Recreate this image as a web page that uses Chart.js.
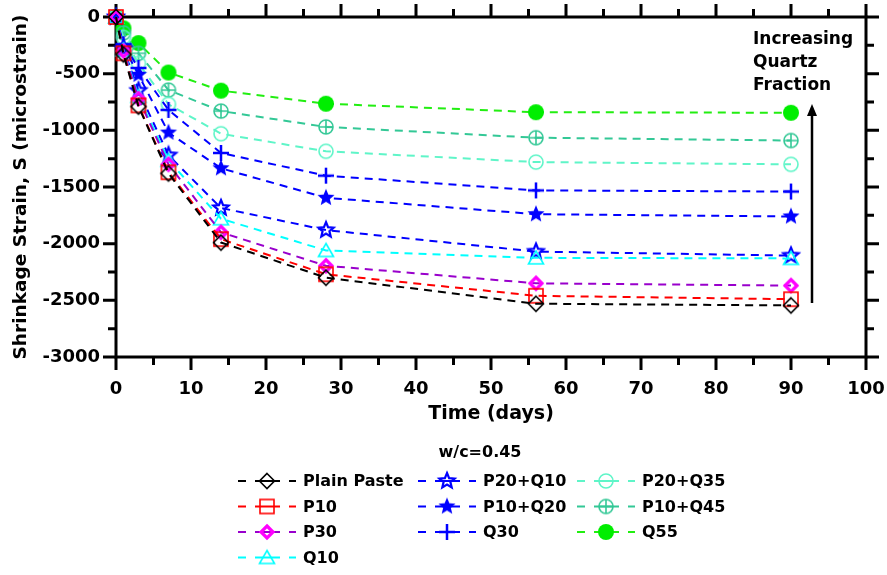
<!DOCTYPE html>
<html>
<head>
<meta charset="utf-8">
<script src="https://cdn.jsdelivr.net/npm/chart.js@4.4.1/dist/chart.umd.min.js"></script>
<style>
  html, body { margin: 0; padding: 0; background: #fff; }
</style>
</head>
<body>
<canvas id="shrinkChart" width="887" height="575"></canvas>
<script>
// data (days vs microstrain)
const days = [0, 1, 3, 7, 14, 28, 56, 90];
const plainPaste = [0, -330, -790, -1380, -1990, -2300, -2530, -2545];
const p10 = [0, -320, -780, -1370, -1960, -2270, -2460, -2490];
const p30 = [0, -300, -720, -1300, -1900, -2195, -2350, -2370];
const q10 = [0, -290, -700, -1265, -1780, -2060, -2125, -2130];
const p20q10 = [0, -280, -650, -1220, -1685, -1880, -2070, -2105];
const p10q20 = [0, -260, -510, -1020, -1335, -1595, -1740, -1760];
const q30 = [0, -240, -450, -820, -1200, -1400, -1530, -1540];
const p20q35 = [0, -180, -410, -770, -1030, -1185, -1280, -1300];
const p10q45 = [0, -140, -320, -645, -830, -970, -1065, -1090];
const q55 = [0, -100, -230, -490, -650, -765, -840, -845];

const xMajorTicks = [0, 10, 20, 30, 40, 50, 60, 70, 80, 90, 100];
const yMajorTicks = [0, -500, -1000, -1500, -2000, -2500, -3000];

const FONT = '"DejaVu Sans", Arial, sans-serif';
const HIDDEN = 'rgba(0,0,0,0)';

// marker images
function marker(draw) {
  const c = document.createElement('canvas');
  c.width = 22; c.height = 22;
  const g = c.getContext('2d');
  g.translate(11, 11);
  draw(g);
  return c;
}
function starPath(g, ro, ri) {
  g.beginPath();
  for (let i = 0; i < 10; i++) {
    const r = i % 2 ? ri : ro;
    const a = -Math.PI / 2 + i * Math.PI / 5;
    g.lineTo(r * Math.cos(a), r * Math.sin(a));
  }
  g.closePath();
}
const mk = {
  diamond: marker(g => {
    g.strokeStyle = '#000'; g.lineWidth = 1.6;
    g.beginPath(); g.moveTo(0, -7.5); g.lineTo(7.5, 0); g.lineTo(0, 7.5); g.lineTo(-7.5, 0); g.closePath(); g.stroke();
  }),
  square: marker(g => {
    g.strokeStyle = '#ff0000'; g.lineWidth = 1.6;
    g.strokeRect(-7, -7, 14, 14);
  }),
  thickDiamond: marker(g => {
    g.strokeStyle = '#ff00ff'; g.lineWidth = 3.2;
    g.beginPath(); g.moveTo(0, -6); g.lineTo(6, 0); g.lineTo(0, 6); g.lineTo(-6, 0); g.closePath(); g.stroke();
  }),
  triangle: marker(g => {
    g.strokeStyle = '#00ffff'; g.lineWidth = 1.6;
    g.beginPath(); g.moveTo(0, -7); g.lineTo(7.5, 6); g.lineTo(-7.5, 6); g.closePath(); g.stroke();
  }),
  openStar: marker(g => {
    g.strokeStyle = '#0000ff'; g.lineWidth = 2.2;
    starPath(g, 8, 3.6); g.stroke();
  }),
  fillStar: marker(g => {
    g.fillStyle = '#0000ff';
    starPath(g, 9, 4); g.fill();
  }),
  plus: marker(g => {
    g.strokeStyle = '#0000ff'; g.lineWidth = 2.5;
    g.beginPath(); g.moveTo(-8, 0); g.lineTo(8, 0); g.moveTo(0, -8); g.lineTo(0, 8); g.stroke();
  }),
  openCircle: marker(g => {
    g.strokeStyle = '#5ff5c8'; g.lineWidth = 1.6;
    g.beginPath(); g.arc(0, 0, 7, 0, Math.PI * 2); g.stroke();
  }),
  circlePlus: marker(g => {
    g.strokeStyle = '#33c896'; g.lineWidth = 1.6;
    g.beginPath(); g.arc(0, 0, 7, 0, Math.PI * 2);
    g.moveTo(-7, 0); g.lineTo(7, 0); g.moveTo(0, -7); g.lineTo(0, 7); g.stroke();
  }),
  dot: marker(g => {
    g.fillStyle = '#00ee00';
    g.beginPath(); g.arc(0, 0, 8, 0, Math.PI * 2); g.fill();
  })
};

function series(label, values, color, style) {
  return {
    label,
    data: days.map((d, i) => ({ x: d, y: values[i] })),
    borderColor: color,
    backgroundColor: color,
    borderWidth: 2,
    borderDash: [8, 6],
    pointStyle: style,
    pointRadius: 8,
    tension: 0,
    clip: false
  };
}

const datasets = [
  series('Plain Paste', plainPaste, '#000000', mk.diamond),
  series('P10', p10, '#ff0000', mk.square),
  series('P30', p30, '#9900cc', mk.thickDiamond),
  series('Q10', q10, '#00ffff', mk.triangle),
  series('P20+Q10', p20q10, '#0000ff', mk.openStar),
  series('P10+Q20', p10q20, '#0000ff', mk.fillStar),
  series('Q30', q30, '#0000ff', mk.plus),
  series('P20+Q35', p20q35, '#5ff5c8', mk.openCircle),
  series('P10+Q45', p10q45, '#33c896', mk.circlePlus),
  series('Q55', q55, '#22ee11', mk.dot)
];

// legend layout: columns of dataset indices
const legendCols = [[0, 1, 2, 3], [4, 5, 6], [7, 8, 9]];
const legendX = [238, 418, 577];

const framePlugin = {
  id: 'frame',
  beforeDatasetsDraw(chart) {
    const { ctx, chartArea: a, scales: { x, y } } = chart;
    ctx.save();
    ctx.strokeStyle = '#000';
    ctx.lineWidth = 3;
    ctx.lineCap = 'square';
    ctx.strokeRect(a.left, a.top, a.right - a.left, a.bottom - a.top);
    ctx.lineCap = 'butt';
    ctx.beginPath();
    for (let v = 0; v <= 100; v += 5) {
      const len = xMajorTicks.includes(v) ? 13 : 8;
      const px = x.getPixelForValue(v);
      ctx.moveTo(px, a.bottom); ctx.lineTo(px, a.bottom + len);
      ctx.moveTo(px, a.top); ctx.lineTo(px, a.top - len);
    }
    for (let v = 0; v >= -3000; v -= 250) {
      const len = yMajorTicks.includes(v) ? 13 : 8;
      const py = y.getPixelForValue(v);
      ctx.moveTo(a.left, py); ctx.lineTo(a.left - len, py);
      ctx.moveTo(a.right, py); ctx.lineTo(a.right + len, py);
    }
    ctx.stroke();
    ctx.restore();
  },
  afterDraw(chart) {
    const { ctx } = chart;
    ctx.save();
    // annotation
    ctx.fillStyle = '#000';
    ctx.font = 'bold 17px ' + FONT;
    ctx.textAlign = 'left';
    ctx.textBaseline = 'middle';
    ctx.fillText('Increasing', 753, 40);
    ctx.fillText('Quartz', 753, 63);
    ctx.fillText('Fraction', 753, 86);
    ctx.strokeStyle = '#000';
    ctx.lineWidth = 2.5;
    ctx.beginPath(); ctx.moveTo(812, 303); ctx.lineTo(812, 112); ctx.stroke();
    ctx.beginPath(); ctx.moveTo(812, 104); ctx.lineTo(807, 116); ctx.lineTo(817, 116); ctx.closePath(); ctx.fill();

    // legend
    ctx.font = 'bold 16px ' + FONT;
    ctx.textAlign = 'center';
    ctx.fillText('w/c=0.45', 480, 453);
    ctx.textAlign = 'left';
    legendCols.forEach((col, ci) => {
      const x0 = legendX[ci];
      col.forEach((di, ri) => {
        const ds = datasets[di];
        const yy = 481 + ri * 25.5;
        ctx.strokeStyle = ds.borderColor;
        ctx.lineWidth = 2;
        ctx.beginPath();
        ctx.moveTo(x0, yy); ctx.lineTo(x0 + 8, yy);
        ctx.moveTo(x0 + 17, yy); ctx.lineTo(x0 + 42, yy);
        ctx.moveTo(x0 + 51, yy); ctx.lineTo(x0 + 58, yy);
        ctx.stroke();
        const img = ds.pointStyle;
        ctx.drawImage(img, x0 + 29 - img.width / 2, yy - img.height / 2);
        ctx.fillStyle = '#000';
        ctx.fillText(ds.label, x0 + 65, yy + 1);
      });
    });
    ctx.restore();
  }
};

const ctx = document.getElementById('shrinkChart').getContext('2d');

new Chart(ctx, {
  type: 'line',
  data: { datasets },
  options: {
    responsive: false,
    animation: false,
    devicePixelRatio: 1,
    layout: { padding: { top: 17, right: 21, left: 0, bottom: 150 } },
    plugins: { legend: { display: false }, tooltip: { enabled: false } },
    scales: {
      x: {
        type: 'linear',
        min: 0,
        max: 100,
        grid: { display: true, drawOnChartArea: false, drawTicks: true, tickLength: 22, color: HIDDEN, tickColor: HIDDEN },
        border: { display: false },
        ticks: {
          stepSize: 10,
          padding: 0,
          color: '#000',
          font: { family: FONT, size: 18, weight: 'bold' },
          callback: v => String(v)
        },
        title: {
          display: true,
          text: 'Time (days)',
          color: '#000',
          padding: { top: 0, bottom: 0 },
          font: { family: FONT, size: 19, weight: 'bold' }
        },
        afterFit: s => { s.height = 68; }
      },
      y: {
        type: 'linear',
        min: -3000,
        max: 0,
        grid: { display: true, drawOnChartArea: false, drawTicks: true, tickLength: 16, color: HIDDEN, tickColor: HIDDEN },
        border: { display: false },
        ticks: {
          stepSize: 500,
          padding: 0,
          color: '#000',
          font: { family: FONT, size: 18, weight: 'bold' },
          callback: v => String(v)
        },
        title: {
          display: true,
          text: 'Shrinkage Strain, S (microstrain)',
          color: '#000',
          padding: { top: 10, bottom: 0 },
          font: { family: FONT, size: 18.5, weight: 'bold' }
        },
        afterFit: s => { s.width = 116; }
      }
    }
  },
  plugins: [framePlugin]
});
</script>
</body>
</html>
